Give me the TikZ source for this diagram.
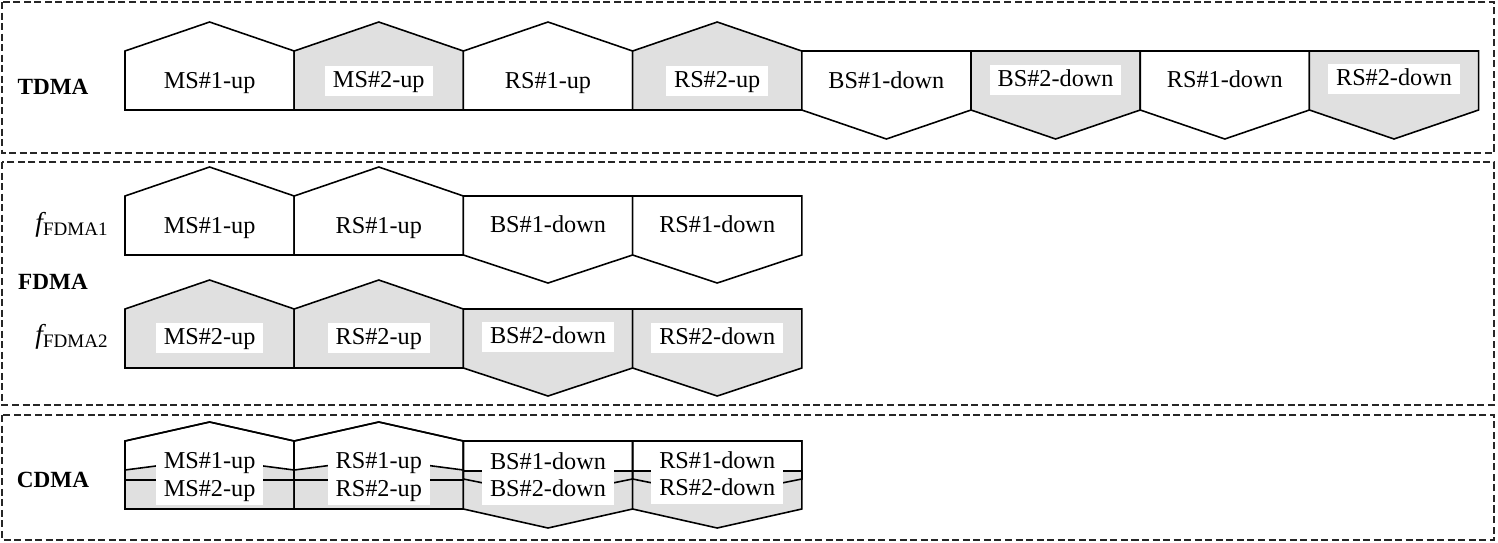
\documentclass[tikz,border=0pt]{standalone}
\usepackage{fontspec}
\setmainfont{Liberation Serif}
\usetikzlibrary{calc}
\definecolor{slotgray}{gray}{0.88}

\begin{document}
\begin{tikzpicture}[x=0.02cm,y=-0.02cm,
    slot/.style={draw,line width=0.9pt,fill=white,line join=miter},
    slotg/.style={slot,fill=slotgray},
    lbl/.style={font=\fontsize{13.8}{16}\selectfont,inner xsep=4.5pt,inner ysep=2pt,
      text height=10pt,text depth=3pt},
    lblw/.style={lbl,fill=white},
    proto/.style={font=\fontsize{13.2}{16}\selectfont\bfseries},
    freq/.style={font=\fontsize{15.5}{18}\selectfont},
    boxframe/.style={draw=black!85,line width=1pt,dash pattern=on 4pt off 2pt}]
  \useasboundingbox (0,0) rectangle (1498,542);
  \draw[boxframe] (2,2) rectangle (1494,153);
  \draw[boxframe] (2,162) rectangle (1494,405);
  \draw[boxframe] (2,415) rectangle (1494,540);

  % TDMA
  \node[proto] (TD) at (53,87) {TDMA};
  \draw[slot] (125,110) -- (125,51) -- (209.6,22) -- (294.2,51) -- (294.2,110) -- cycle;
  \draw[slotg] (294.2,110) -- (294.2,51) -- (378.8,22) -- (463.4,51) -- (463.4,110) -- cycle;
  \draw[slot] (463.4,110) -- (463.4,51) -- (548,22) -- (632.6,51) -- (632.6,110) -- cycle;
  \draw[slotg] (632.6,110) -- (632.6,51) -- (717.2,22) -- (801.8,51) -- (801.8,110) -- cycle;
  \draw[slot] (801.8,51) -- (801.8,110) -- (886.4,139) -- (971,110) -- (971,51) -- cycle;
  \draw[slotg] (971,51) -- (971,110) -- (1055.6,139) -- (1140.2,110) -- (1140.2,51) -- cycle;
  \draw[slot] (1140.2,51) -- (1140.2,110) -- (1224.8,139) -- (1309.4,110) -- (1309.4,51) -- cycle;
  \draw[slotg] (1309.4,51) -- (1309.4,110) -- (1394,139) -- (1478.6,110) -- (1478.6,51) -- cycle;
  \node[lbl] (T1) at (209.6,82) {MS\#1-up};
  \node[lblw] (T2) at (378.8,81) {MS\#2-up};
  \node[lbl] (T3) at (548,82) {RS\#1-up};
  \node[lblw] (T4) at (717.2,81) {RS\#2-up};
  \node[lbl] (T5) at (886.4,82) {BS\#1-down};
  \node[lblw] (T6) at (1055.6,80) {BS\#2-down};
  \node[lbl] (T7) at (1224.8,81) {RS\#1-down};
  \node[lblw] (T8) at (1394,79) {RS\#2-down};

  % FDMA
  \node[proto] (FD) at (53,282) {FDMA};
  \node[freq] (F1) at (72,225) {$\mathit{f}_{\mathrm{FDMA1}}$};
  \node[freq] (F2) at (72,337) {$\mathit{f}_{\mathrm{FDMA2}}$};
  \draw[slot] (125,255) -- (125,196) -- (209.6,167) -- (294.2,196) -- (294.2,255) -- cycle;
  \draw[slot] (294.2,255) -- (294.2,196) -- (378.8,167) -- (463.4,196) -- (463.4,255) -- cycle;
  \draw[slot] (463.4,196) -- (463.4,255) -- (548,283) -- (632.6,255) -- (632.6,196) -- cycle;
  \draw[slot] (632.6,196) -- (632.6,255) -- (717.2,283) -- (801.8,255) -- (801.8,196) -- cycle;
  \draw[slotg] (125,368) -- (125,309) -- (209.6,280) -- (294.2,309) -- (294.2,368) -- cycle;
  \draw[slotg] (294.2,368) -- (294.2,309) -- (378.8,280) -- (463.4,309) -- (463.4,368) -- cycle;
  \draw[slotg] (463.4,309) -- (463.4,368) -- (548,396) -- (632.6,368) -- (632.6,309) -- cycle;
  \draw[slotg] (632.6,309) -- (632.6,368) -- (717.2,396) -- (801.8,368) -- (801.8,309) -- cycle;
  \node[lbl] (A1) at (209.6,227) {MS\#1-up};
  \node[lbl] (A2) at (378.8,227) {RS\#1-up};
  \node[lbl] (A3) at (548,226) {BS\#1-down};
  \node[lbl] (A4) at (717.2,226) {RS\#1-down};
  \node[lblw] (B1) at (209.6,338) {MS\#2-up};
  \node[lblw] (B2) at (378.8,338) {RS\#2-up};
  \node[lblw] (B3) at (548,337) {BS\#2-down};
  \node[lblw] (B4) at (717.2,338) {RS\#2-down};

  % CDMA
  \node[proto] (CD) at (53,480) {CDMA};
  \draw[slot] (125,480) -- (125,441) -- (209.6,422) -- (294.2,441) -- (294.2,480) -- cycle;
  \draw[slot] (294.2,480) -- (294.2,441) -- (378.8,422) -- (463.4,441) -- (463.4,480) -- cycle;
  \draw[slot] (463.4,441) -- (463.4,479) -- (548,496) -- (632.6,479) -- (632.6,441) -- cycle;
  \draw[slot] (632.6,441) -- (632.6,479) -- (717.2,496) -- (801.8,479) -- (801.8,441) -- cycle;
  \draw[slotg] (125,509) -- (125,470) -- (209.6,459) -- (294.2,470) -- (294.2,509) -- cycle;
  \draw[slotg] (294.2,509) -- (294.2,470) -- (378.8,459) -- (463.4,470) -- (463.4,509) -- cycle;
  \draw[slotg] (463.4,471) -- (463.4,509) -- (548,528) -- (632.6,509) -- (632.6,471) -- cycle;
  \draw[slotg] (632.6,471) -- (632.6,509) -- (717.2,528) -- (801.8,509) -- (801.8,471) -- cycle;
  \draw[slot,fill=none] (125,480) -- (125,441) -- (209.6,422) -- (294.2,441) -- (294.2,480) -- cycle;
  \draw[slot,fill=none] (294.2,480) -- (294.2,441) -- (378.8,422) -- (463.4,441) -- (463.4,480) -- cycle;
  \draw[slot,fill=none] (463.4,441) -- (463.4,479) -- (548,496) -- (632.6,479) -- (632.6,441) -- cycle;
  \draw[slot,fill=none] (632.6,441) -- (632.6,479) -- (717.2,496) -- (801.8,479) -- (801.8,441) -- cycle;
  \node[lblw] (C1) at (209.6,462) {MS\#1-up};
  \node[lblw] (C2) at (378.8,462) {RS\#1-up};
  \node[lblw] (C3) at (548,463) {BS\#1-down};
  \node[lblw] (C4) at (717.2,462) {RS\#1-down};
  \node[lblw] (D1) at (209.6,490) {MS\#2-up};
  \node[lblw] (D2) at (378.8,490) {RS\#2-up};
  \node[lblw] (D3) at (548,490) {BS\#2-down};
  \node[lblw] (D4) at (717.2,489) {RS\#2-down};
\end{tikzpicture}
\end{document}
